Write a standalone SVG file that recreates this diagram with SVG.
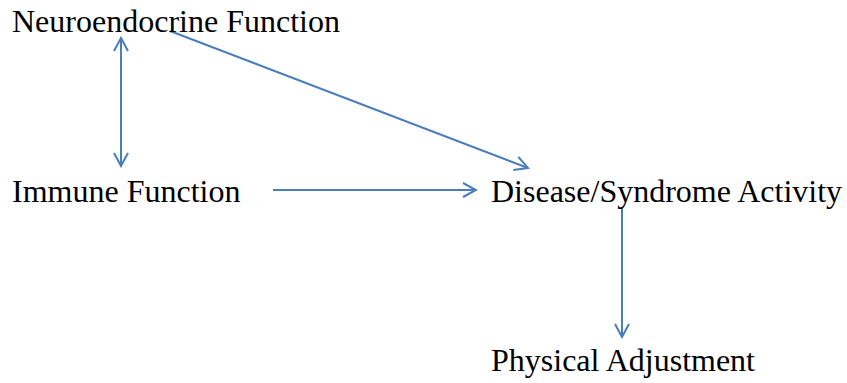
<svg xmlns="http://www.w3.org/2000/svg" width="847" height="383" viewBox="0 0 847 383">
<style>
text{font-family:'Liberation Serif','Times New Roman','DejaVu Serif',serif;font-size:32px;fill:#000}
.c{stroke:#4a7ebb;stroke-width:2;fill:none}
</style>
<defs>
<marker id="ah" viewBox="-14 -8 16 16" markerWidth="16" markerHeight="16" refX="0" refY="0" orient="auto-start-reverse" markerUnits="userSpaceOnUse">
<path d="M-13,-7 L0,0 L-13,7" fill="none" stroke="#4a7ebb" stroke-width="2"/>
</marker>
</defs>
<rect width="847" height="383" fill="#fff"/>
<g id="connectors">
<line class="c" x1="121" y1="38" x2="121" y2="166" marker-start="url(#ah)" marker-end="url(#ah)"/>
<line class="c" x1="170" y1="31" x2="528" y2="168" marker-end="url(#ah)"/>
<line class="c" x1="273" y1="190" x2="476" y2="190" marker-end="url(#ah)"/>
<line class="c" x1="622" y1="207" x2="622" y2="337" marker-end="url(#ah)"/>
</g>
<g id="neuro"><text font-family="Liberation Serif, serif" x="12" y="32">Neuroendocrine Function</text></g>
<g id="immune"><text font-family="Liberation Serif, serif" x="12" y="202">Immune Function</text></g>
<g id="disease"><text font-family="Liberation Serif, serif" x="491" y="202">Disease/Syndrome Activity</text></g>
<g id="physical"><text font-family="Liberation Serif, serif" x="491" y="371">Physical Adjustment</text></g>
</svg>
